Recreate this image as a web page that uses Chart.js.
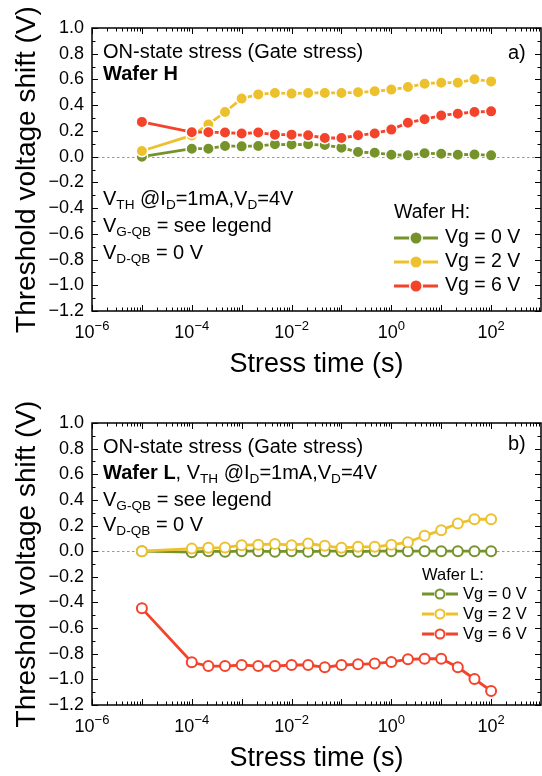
<!DOCTYPE html>
<html>
<head>
<meta charset="utf-8">
<script src="https://cdn.jsdelivr.net/npm/chart.js@4.4.0/dist/chart.umd.min.js"></script>
<style>
  body { margin: 0; background: #fff; }
  canvas { position: absolute; left: 0; }
  #chartH { top: 0; }
  #chartL { top: 388px; }
</style>
</head>
<body>
<canvas id="chartH" width="542" height="388"></canvas>
<canvas id="chartL" width="542" height="388"></canvas>
<script>
// stress time (s), same for every curve
var stressTime = [1e-5, 1e-4, 2.15e-4, 4.64e-4, 1e-3, 2.15e-3, 4.64e-3, 1e-2, 2.15e-2, 4.64e-2,
                  0.1, 0.215, 0.464, 1, 2.15, 4.64, 10, 21.5, 46.4, 100];

// Wafer H (panel a)
var waferH_vg0 = [0.00, 0.062, 0.062, 0.083, 0.08, 0.083, 0.096, 0.094, 0.096, 0.09,
                  0.07, 0.036, 0.03, 0.015, 0.01, 0.027, 0.022, 0.015, 0.017, 0.01];
var waferH_vg2 = [0.044, 0.165, 0.25, 0.347, 0.451, 0.484, 0.495, 0.49, 0.495, 0.495,
                  0.495, 0.5, 0.508, 0.521, 0.541, 0.567, 0.575, 0.575, 0.601, 0.585];
var waferH_vg6 = [0.27, 0.19, 0.19, 0.187, 0.18, 0.187, 0.171, 0.171, 0.166, 0.145,
                  0.145, 0.166, 0.18, 0.21, 0.264, 0.29, 0.32, 0.334, 0.347, 0.352];

// Wafer L (panel b)
var waferL_vg0 = [0, -0.008, 0, -0.004, 0, 0, -0.004, 0, -0.004, 0,
                  0, -0.004, 0, 0, 0, 0, 0, 0, 0, 0];
var waferL_vg2 = [0.0, 0.02, 0.026, 0.028, 0.047, 0.05, 0.057, 0.047, 0.06, 0.042,
                  0.026, 0.034, 0.034, 0.05, 0.07, 0.12, 0.164, 0.216, 0.249, 0.249];
var waferL_vg6 = [-0.446, -0.867, -0.896, -0.896, -0.888, -0.896, -0.896, -0.888, -0.888, -0.906,
                  -0.888, -0.883, -0.877, -0.864, -0.844, -0.839, -0.839, -0.906, -0.997, -1.09];

var seriesLabels = ['Vg = 0 V', 'Vg = 2 V', 'Vg = 6 V'];
var seriesColors = ['#76932B', '#EDC12E', '#F4432B'];
var xTickExponents = [-6, -4, -2, 0, 2];

var FONT = '"Liberation Sans", Arial, sans-serif';

function toPoints(vals) {
  return stressTime.map(function (t, i) { return { x: t, y: vals[i] }; });
}

// draws text runs: ['text', ''] normal, 'b' bold, 's' subscript
function richText(ctx, x, y, parts, size) {
  ctx.textBaseline = 'middle';
  ctx.textAlign = 'left';
  ctx.fillStyle = '#000';
  parts.forEach(function (p) {
    var sz = p[1] == 's' ? size * 0.68 : size;
    ctx.font = (p[1] == 'b' ? 'bold ' : '') + sz + 'px ' + FONT;
    ctx.fillText(p[0], x, y + (p[1] == 's' ? size * 0.3 : 0));
    x += ctx.measureText(p[0]).width;
  });
}

function marker(ctx, x, y, ds, r) {
  ctx.beginPath();
  ctx.arc(x, y, r, 0, Math.PI * 2);
  ctx.fillStyle = ds.pointBackgroundColor;
  ctx.fill();
  if (ds.pointBorderColor != '#fff') {
    ctx.lineWidth = ds.pointBorderWidth;
    ctx.strokeStyle = ds.pointBorderColor;
    ctx.stroke();
  }
}

function decorPlugin(info) {
  return {
    id: 'decor',
    beforeDatasetsDraw: function (chart) {
      var ctx = chart.ctx, a = chart.chartArea;
      var y0 = Math.round(chart.scales.y.getPixelForValue(0)) + 0.5;
      ctx.save();
      ctx.strokeStyle = '#808080';
      ctx.lineWidth = 0.8;
      ctx.setLineDash([2.5, 2.5]);
      ctx.beginPath();
      ctx.moveTo(a.left, y0);
      ctx.lineTo(a.right, y0);
      ctx.stroke();
      ctx.restore();
    },
    afterDatasetsDraw: function (chart) {
      var ctx = chart.ctx, a = chart.chartArea;
      var sx = chart.scales.x, sy = chart.scales.y;
      ctx.save();
      ctx.strokeStyle = '#000';
      ctx.lineWidth = 1.5;
      ctx.strokeRect(a.left, a.top, a.right - a.left, a.bottom - a.top);

      // inward ticks on all four sides
      ctx.lineWidth = 1;
      ctx.beginPath();
      for (var k = -6; k <= 2; k++) {
        for (var m = 1; m <= 9; m++) {
          var px = Math.round(sx.getPixelForValue(m * Math.pow(10, k))) + 0.5;
          var len = m == 1 ? 6 : 3.5;
          ctx.moveTo(px, a.bottom); ctx.lineTo(px, a.bottom - len);
          ctx.moveTo(px, a.top); ctx.lineTo(px, a.top + len);
        }
      }
      for (var j = -12; j <= 10; j++) {
        var py = Math.round(sy.getPixelForValue(j / 10)) + 0.5;
        var l2 = j % 2 == 0 ? 6 : 3.5;
        ctx.moveTo(a.left, py); ctx.lineTo(a.left + l2, py);
        ctx.moveTo(a.right, py); ctx.lineTo(a.right - l2, py);
      }
      ctx.stroke();

      // x tick labels 10^n
      ctx.fillStyle = '#000';
      ctx.textBaseline = 'middle';
      ctx.textAlign = 'left';
      xTickExponents.forEach(function (e) {
        var base = '10', ex = (e < 0 ? '\u2212' : '') + Math.abs(e);
        ctx.font = '18px ' + FONT;
        var wb = ctx.measureText(base).width;
        ctx.font = '13px ' + FONT;
        var we = ctx.measureText(ex).width;
        var cx = sx.getPixelForValue(Math.pow(10, e));
        var x0 = cx - (wb + we) / 2, yy = a.bottom + 22;
        ctx.font = '18px ' + FONT;
        ctx.fillText(base, x0, yy);
        ctx.font = '13px ' + FONT;
        ctx.fillText(ex, x0 + wb, yy - 7);
      });

      // annotations
      info.texts.forEach(function (t) {
        richText(ctx, t.x, t.y, t.parts, t.size);
      });

      // legend
      var lg = info.legend;
      richText(ctx, lg.x, lg.titleY, [[lg.title, '']], lg.size);
      var sets = chart.data.datasets;
      lg.rows.forEach(function (ry, i) {
        var ds = sets[i];
        ctx.strokeStyle = ds.borderColor;
        ctx.lineWidth = ds.borderWidth;
        ctx.beginPath();
        ctx.moveTo(lg.x, ry); ctx.lineTo(lg.x + lg.lineW, ry);
        ctx.stroke();
        ctx.beginPath();
        ctx.arc(lg.x + lg.lineW / 2, ry, lg.r + 1.5, 0, Math.PI * 2);
        ctx.fillStyle = '#fff';
        ctx.fill();
        marker(ctx, lg.x + lg.lineW / 2, ry, ds, lg.r);
        richText(ctx, lg.x + lg.lineW + lg.gap, ry, [[seriesLabels[i], '']], lg.size);
      });
      ctx.restore();
    }
  };
}

function makeDatasets(lists, open) {
  return lists.map(function (vals, i) {
    return {
      label: seriesLabels[i],
      data: toPoints(vals),
      borderColor: seriesColors[i],
      backgroundColor: seriesColors[i],
      borderWidth: 2.8,
      pointRadius: open ? 5 : 5.75,
      pointBorderWidth: open ? 2 : 1.5,
      pointBackgroundColor: open ? '#fff' : seriesColors[i],
      pointBorderColor: open ? seriesColors[i] : '#fff',
      tension: 0,
      order: 2 - i
    };
  });
}

function makeChart(id, lists, open, padTop, info) {
  var axisFont = { family: FONT, size: 18 };
  return new Chart(document.getElementById(id).getContext('2d'), {
    type: 'line',
    data: { datasets: makeDatasets(lists, open) },
    options: {
      responsive: false,
      animation: false,
      devicePixelRatio: 1,
      layout: { autoPadding: false, padding: { top: padTop, right: 1, bottom: 0, left: 0 } },
      plugins: { legend: { display: false }, tooltip: { enabled: false } },
      scales: {
        x: {
          type: 'logarithmic', min: 1e-6, max: 1e3,
          grid: { display: false, drawTicks: false }, border: { display: false },
          ticks: { display: false },
          title: { display: true, text: 'Stress time (s)', color: '#000',
                   font: { family: FONT, size: 27 }, padding: { top: 0, bottom: info.titlePad } },
          afterFit: function (s) { s.height = 388 - padTop - info.plotH; }
        },
        y: {
          min: -1.2, max: 1.0,
          grid: { display: false, drawTicks: false }, border: { display: false },
          ticks: {
            stepSize: 0.2, color: '#000', font: axisFont, padding: 8,
            callback: function (v) {
              var r = Math.round(v * 10) / 10;
              return (r < 0 ? '\u2212' : '') + Math.abs(r).toFixed(1);
            }
          },
          title: { display: true, text: 'Threshold voltage shift (V)', color: '#000',
                   font: { family: FONT, size: 28 }, padding: { top: 10, bottom: 0 } },
          afterFit: function (s) { s.width = 92; }
        }
      }
    },
    plugins: [decorPlugin(info)]
  });
}

makeChart('chartH', [waferH_vg0, waferH_vg2, waferH_vg6], false, 28, {
  plotH: 283,
  titlePad: 7,
  texts: [
    { x: 103, y: 52, size: 20, parts: [['ON-state stress (Gate stress)', '']] },
    { x: 103, y: 74, size: 20, parts: [['Wafer H', 'b']] },
    { x: 103, y: 199, size: 20, parts: [['V', ''], ['TH', 's'], [' @I', ''], ['D', 's'], ['=1mA,V', ''], ['D', 's'], ['=4V', '']] },
    { x: 103, y: 226, size: 20, parts: [['V', ''], ['G-QB', 's'], [' = see legend', '']] },
    { x: 103, y: 253, size: 20, parts: [['V', ''], ['D-QB', 's'], [' = 0 V', '']] },
    { x: 508, y: 53, size: 20, parts: [['a)', '']] }
  ],
  legend: { title: 'Wafer H:', x: 394, titleY: 213, rows: [238, 262, 286], lineW: 44, gap: 7, r: 5.5, size: 19.5 }
});

makeChart('chartL', [waferL_vg0, waferL_vg2, waferL_vg6], true, 35, {
  plotH: 282,
  titlePad: 1,
  texts: [
    { x: 103, y: 59, size: 20, parts: [['ON-state stress (Gate stress)', '']] },
    { x: 103, y: 85, size: 20, parts: [['Wafer L', 'b'], [', V', ''], ['TH', 's'], [' @I', ''], ['D', 's'], ['=1mA,V', ''], ['D', 's'], ['=4V', '']] },
    { x: 103, y: 112, size: 20, parts: [['V', ''], ['G-QB', 's'], [' = see legend', '']] },
    { x: 103, y: 137, size: 20, parts: [['V', ''], ['D-QB', 's'], [' = 0 V', '']] },
    { x: 508, y: 56, size: 20, parts: [['b)', '']] }
  ],
  legend: { title: 'Wafer L:', x: 422, titleY: 187, rows: [206, 226, 246], lineW: 36, gap: 5, r: 4.5, size: 16.5 }
});
</script>
</body>
</html>
